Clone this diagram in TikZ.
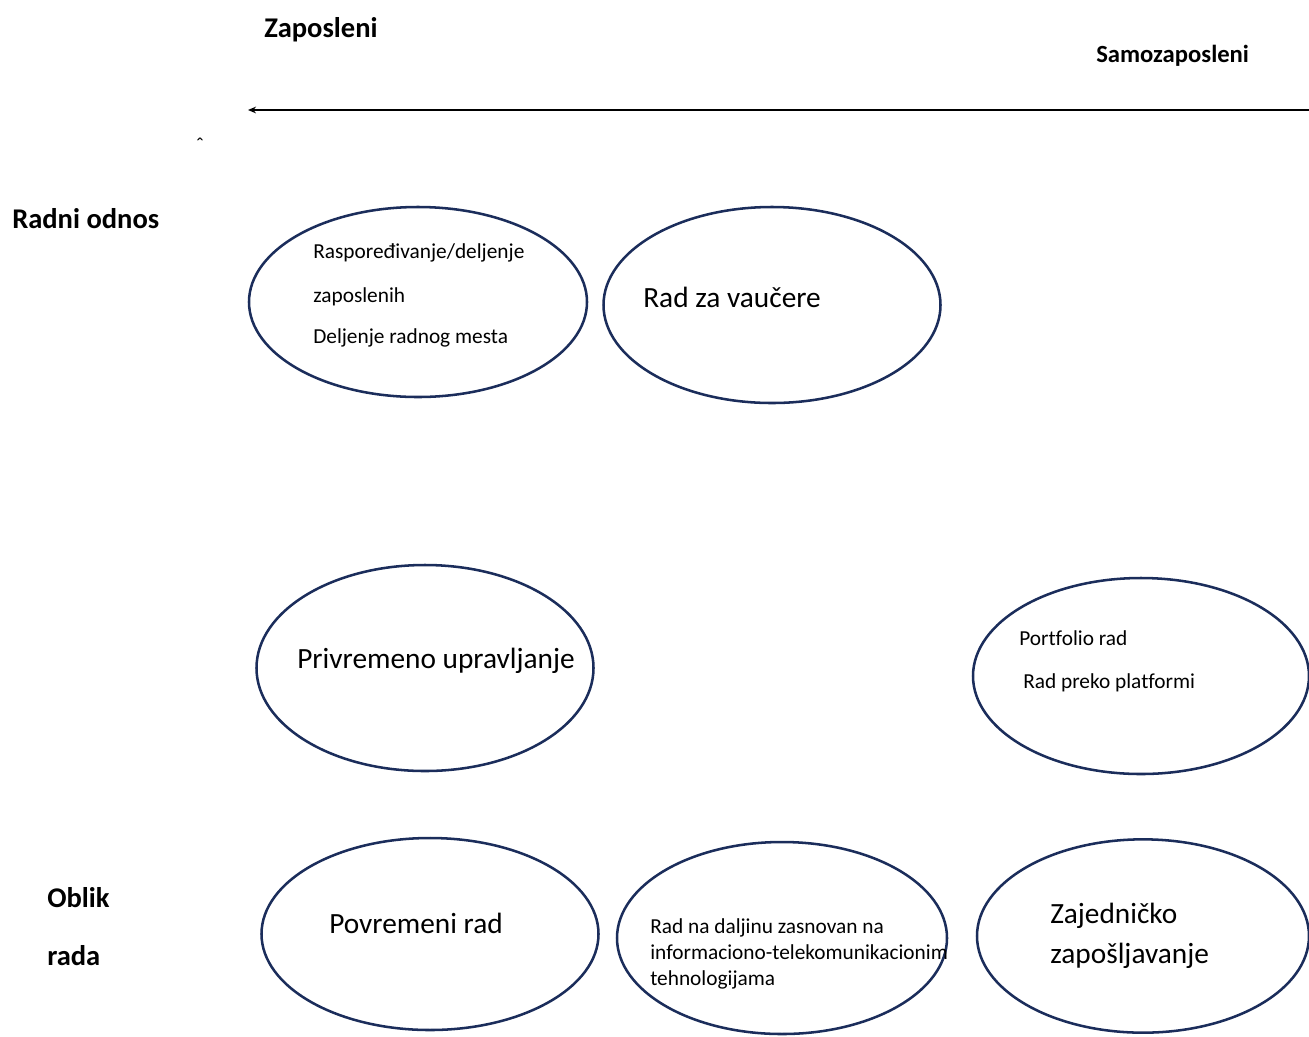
\documentclass[tikz,border=0pt]{standalone}
\usepackage{fontspec}
\setmainfont{Carlito}[Ligatures=NoCommon]
\usetikzlibrary{shapes.geometric,arrows.meta}
\definecolor{navy}{HTML}{1B2D5B}
\tikzset{
  ell/.style={draw=navy, line width=1.9pt, ellipse, inner sep=0pt},
  small/.style={anchor=base west, inner sep=0pt, font=\fontsize{16}{19}\selectfont},
  big/.style={anchor=base west, inner sep=0pt, font=\fontsize{22}{26}\selectfont},
  lab/.style={anchor=base west, inner sep=0pt, font=\fontsize{21.4}{25}\selectfont\bfseries},
}
\begin{document}
\begin{tikzpicture}[x=0.75pt, y=-0.75pt]
\useasboundingbox (0,0) rectangle (1309,1036);
% labels
\node[lab] (zap) at (264,37) {Zaposleni};
\node[lab, font=\fontsize{18.5}{22}\selectfont\bfseries] (samo) at (1096,62) {Samozaposleni};
\node[lab] (radni) at (12,228) {Radni odnos};
\node[lab] (oblik) at (47,907) {Oblik};
\node[lab] (rada) at (47,965) {rada};
\node[anchor=base, inner sep=0pt, font=\fontsize{16}{19}\selectfont] (caret) at (200,152) {ˆ};
% arrow
\coordinate (ar) at (1309,110);
\coordinate (al) at (248,110);
\draw[line width=1.5pt, -{Stealth[length=6pt,width=5pt]}] (ar) -- (al);
% ellipses
\node[ell, minimum width=253.5pt, minimum height=142.5pt] (e1) at (418,302) {};
\node[ell, minimum width=252.75pt, minimum height=147pt] (e2) at (772,305) {};
\node[ell, minimum width=252.75pt, minimum height=154.5pt] (e3) at (425,668) {};
\node[ell, minimum width=252pt, minimum height=147pt] (e4) at (1141,676) {};
\node[ell, minimum width=252.75pt, minimum height=144pt] (e5) at (430,934) {};
\node[ell, minimum width=247.5pt, minimum height=144pt] (e6) at (782,938) {};
\node[ell, minimum width=249pt, minimum height=145pt] (e7) at (1143,936) {};
% texts
\node[small] (t1a) at (313,258) {Raspoređivanje/deljenje};
\node[small] (t1b) at (313,302) {zaposlenih};
\node[small] (t1c) at (313,343) {Deljenje radnog mesta};
\node[big] (t2) at (643,307) {Rad za vaučere};
\node[big] (t3) at (297,668) {Privremeno upravljanje};
\node[small] (t4a) at (1019,645) {Portfolio rad};
\node[small] (t4b) at (1023,688) {Rad preko platformi};
\node[big] (t5) at (329,933) {Povremeni rad};
\node[small] (t6a) at (650,933) {Rad na daljinu zasnovan na};
\node[small] (t6b) at (650,959) {informaciono-telekomunikacionim};
\node[small] (t6c) at (650,985) {tehnologijama};
\node[big] (t7a) at (1050,923) {Zajedničko};
\node[big] (t7b) at (1050,963) {zapošljavanje};
\end{tikzpicture}
\end{document}
